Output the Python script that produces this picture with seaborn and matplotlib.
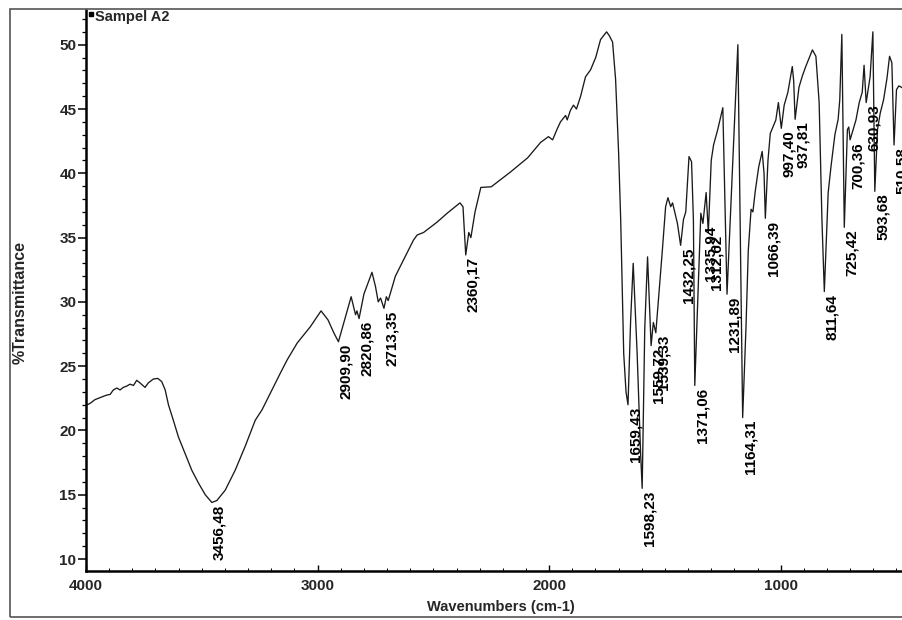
import numpy as np
import pandas as pd
import seaborn as sns
import matplotlib.pyplot as plt
from matplotlib.patches import Rectangle
from matplotlib.ticker import MultipleLocator, FixedLocator

# ---------------- data ----------------
wavenumbers = [
    3995, 3983, 3961, 3932, 3911, 3896, 3882, 3867, 3853, 3839, 3824, 3810, 3795,
    3781, 3767, 3745, 3731, 3709, 3690, 3673, 3658, 3644, 3623, 3601, 3572, 3543,
    3514, 3485, 3456.48, 3435, 3399, 3356, 3313, 3269, 3240, 3197, 3161, 3131, 3088,
    3032, 2985, 2955, 2930, 2909.90, 2885, 2855, 2836, 2830, 2820.86, 2800, 2765,
    2750, 2738, 2728, 2713.35, 2703, 2695, 2664, 2628, 2586, 2570, 2542, 2484, 2440,
    2385, 2372, 2360.17, 2347, 2338, 2320, 2295, 2250, 2167, 2093, 2037, 2003, 1985,
    1964, 1951, 1929, 1922, 1908, 1895, 1882, 1864, 1843, 1821, 1799, 1778, 1752,
    1740, 1726, 1713, 1700, 1691, 1678, 1668, 1659.43, 1648, 1637, 1620, 1605,
    1598.23, 1587, 1575, 1559.72, 1550, 1539.33, 1512, 1497, 1487, 1475, 1467, 1446,
    1432.25, 1420, 1410, 1396, 1385, 1377, 1371.06, 1356, 1345, 1335.94, 1322,
    1312.62, 1300, 1290, 1272, 1250, 1231.89, 1185, 1164.31, 1150, 1140, 1128, 1120,
    1110, 1095, 1080, 1072, 1066.39, 1055, 1045, 1021, 1010, 997.40, 985, 969, 950,
    944, 937.81, 921, 906, 892, 863, 848, 834, 822, 811.64, 795, 783, 766, 752, 745,
    736, 725.42, 712, 706, 700.36, 675, 661, 648, 640, 630.93, 614, 602, 593.68, 582,
    570, 556, 541, 530, 520, 510.58, 500, 490, 470,
]
transmittance = [
    22.0, 22.1, 22.4, 22.6, 22.75, 22.8, 23.15, 23.3, 23.15, 23.35, 23.45, 23.6, 23.5,
    23.9, 23.7, 23.35, 23.7, 24.0, 24.05, 23.8, 23.15, 22.0, 20.8, 19.5, 18.2, 16.9,
    15.9, 15.0, 14.4, 14.55, 15.35, 16.9, 18.75, 20.8, 21.6, 23.15, 24.45, 25.5, 26.8,
    28.05, 29.3, 28.6, 27.6, 26.9, 28.5, 30.4, 29.0, 29.3, 28.7, 30.6, 32.3,
    31.2, 30.0, 30.3, 29.5, 30.4, 30.1, 32.0, 33.3, 34.8, 35.2, 35.4, 36.2, 36.9,
    37.7, 37.4, 33.65, 35.4, 35.0, 37.0, 38.9, 38.95, 40.1, 41.2, 42.4, 42.85, 42.6,
    43.5, 44.0, 44.5, 44.15, 44.9, 45.3, 45.0, 46.0, 47.5, 48.05, 49.0, 50.4, 51.0,
    50.7, 50.2, 47.3, 41.6, 36.4, 26.0, 23.0, 22.0, 28.6, 33.0, 26.0, 18.2,
    15.5, 28.0, 33.5, 26.6, 28.4, 27.6, 33.8, 37.4, 38.1, 37.4, 37.7, 36.1,
    34.4, 36.4, 37.0, 41.3, 40.9, 36.4, 23.5, 31.2, 36.9, 36.1, 38.5,
    35.4, 41.0, 42.2, 43.4, 45.1, 30.6, 50.0, 21.0, 28.0, 34.0, 37.2, 37.0,
    38.6, 40.5, 41.7, 40.0, 36.5, 41.0, 43.1, 44.15, 45.5, 43.5, 45.3, 46.3, 48.3,
    47.2, 44.2, 46.7, 47.6, 48.3, 49.6, 49.1, 45.5, 36.4, 30.8, 38.5, 40.5, 43.0, 44.2, 45.7,
    50.8, 35.8, 43.4, 43.6, 42.6, 44.15, 45.5, 46.3, 48.4, 45.5, 47.5, 51.0, 38.6, 43.4,
    44.7, 45.7, 47.4, 49.1, 48.6, 42.2, 46.5, 46.8, 46.6,
]
peak_wavenumbers = [
    3456.48, 2909.90, 2820.86, 2713.35, 2360.17, 1659.43, 1598.23, 1559.72, 1539.33,
    1432.25, 1371.06, 1335.94, 1312.62, 1231.89, 1164.31, 1066.39, 997.40, 937.81,
    811.64, 725.42, 700.36, 630.93, 593.68, 510.58,
]
x_ticks = [4000, 3000, 2000, 1000]
y_ticks = [10, 15, 20, 25, 30, 35, 40, 45, 50]
series_name = "Sampel A2"
x_title = "Wavenumbers (cm-1)"
y_title = "%Transmittance"

# ---------------- figure ----------------
sns.set_theme(style="white")
plt.rcParams["font.family"] = ["Liberation Sans", "DejaVu Sans"]

W, H = 903, 620
fig = plt.figure(figsize=(W / 100, H / 100), dpi=100)
fig.patch.set_facecolor("white")

# outer frame of the printout
fig.patches.append(Rectangle((10 / W, 3 / H), 1.2, (617 - 9) / H,
                             transform=fig.transFigure, fill=False,
                             edgecolor="#555555", lw=1.2, zorder=0))

ax = fig.add_axes([86 / W, 1 - 571 / H, 1 - 86 / W + 0.001, (571 - 10) / H])
ax.set_facecolor("none")

df = pd.DataFrame({"wn": wavenumbers, "T": transmittance})
sns.lineplot(data=df, x="wn", y="T", ax=ax, color="#1a1a1a", lw=0.95,
             sort=False, estimator=None)

ax.set_xlim(4000, 468)
ax.set_ylim(9.07, 52.7)
ax.set_xlabel("")
ax.set_ylabel("")

for s in ["top", "right"]:
    ax.spines[s].set_visible(False)
for s in ["left", "bottom"]:
    ax.spines[s].set_color("black")
    ax.spines[s].set_linewidth(1.8)

ax.xaxis.set_major_locator(FixedLocator(x_ticks))
ax.xaxis.set_minor_locator(MultipleLocator(100))
ax.yaxis.set_major_locator(FixedLocator(y_ticks))
ax.yaxis.set_minor_locator(MultipleLocator(1))
ax.tick_params(axis="y", which="major", direction="out", length=5.5, width=1.1,
               color="black", pad=1.5, left=True)
ax.tick_params(axis="y", which="minor", direction="out", length=3, width=0.9,
               color="black", left=True)
ax.tick_params(axis="x", which="major", direction="in", length=4, width=1.0,
               color="black", pad=6, bottom=True)
ax.tick_params(axis="x", which="minor", direction="in", length=2, width=0.7,
               color="black", bottom=True)
ax.set_xticklabels([str(t) for t in x_ticks], fontweight="bold", fontsize=11)
ax.set_yticklabels([str(t) for t in y_ticks], fontweight="bold", fontsize=11)

# peak labels
wn_arr = np.array(wavenumbers)[::-1]
t_arr = np.array(transmittance)[::-1]
for p in peak_wavenumbers:
    yv = float(np.interp(p, wn_arr, t_arr))
    txt = f"{p:.2f}".replace(".", ",")
    ax.annotate(txt, xy=(p, yv), xytext=(0.5, -1.5), textcoords="offset points",
                rotation=90, ha="left", va="top", fontsize=11,
                fontweight="bold", color="black", annotation_clip=False)

# legend-like series name
ax.plot([0.006], [0.992], marker="s", ms=2.2, color="black",
        transform=ax.transAxes, clip_on=False)
fig.text(95 / W, 1 - 17 / H, series_name, ha="left", va="center",
         fontsize=10.5, fontweight="bold")

# axis titles
fig.text(20 / W, 1 - 302 / H, y_title, rotation=90, ha="center", va="center",
         fontsize=11.5, fontweight="bold")
fig.text(501 / W, 1 - 607 / H, x_title, ha="center", va="center",
         fontsize=10.5, fontweight="bold")

fig.savefig("out.png", dpi=100, facecolor="white")
